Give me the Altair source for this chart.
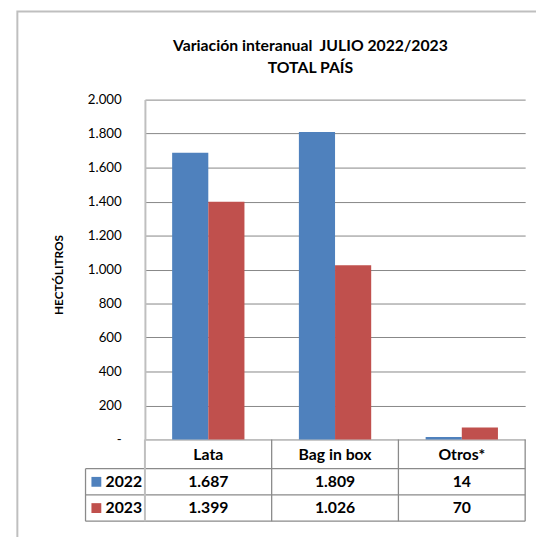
import altair as alt
import pandas as pd

# ---- data ----
categories = ["Lata", "Bag in box", "Otros*"]
years = ["2022", "2023"]
values_2022 = [1687, 1809, 14]
values_2023 = [1399, 1026, 70]
y_ticks = [0, 200, 400, 600, 800, 1000, 1200, 1400, 1600, 1800, 2000]
colors = ["#4F81BD", "#C0504D"]
title_lines = ["Variación interanual \u00a0JULIO 2022/2023", "TOTAL PAÍS"]
y_title = "HECTÓLITROS"

rows = []
for cat, a, b in zip(categories, values_2022, values_2023):
    rows.append({"cat": cat, "year": "2022", "value": a})
    rows.append({"cat": cat, "year": "2023", "value": b})
df = pd.DataFrame(rows)
df["label"] = df["value"].map(lambda v: f"{v:,}".replace(",", "."))

# ---- layout ----
W, H = 386, 345
FONT = "Lato"
GRID = "#868686"
AXIS = "#bfbfbf"
TABLE = "#8a8a8a"
row_tops = [H, 374.7, 401.3, 428.0]          # header, 2022, 2023 rows
row_centers = [(row_tops[i] + row_tops[i + 1]) / 2 for i in range(3)]
left_col = -60.3

xscale = alt.Scale(domain=categories, paddingInner=0, paddingOuter=0)
color_scale = alt.Scale(domain=years, range=colors)
one = pd.DataFrame({"k": [0]})

label_expr = ("datum.value == 0 ? '-\u00a0\u00a0\u00a0' : "
              "replace(format(datum.value, ','), ',', '.')")

bars = alt.Chart(df).mark_bar().encode(
    x=alt.X("cat:N", scale=xscale, sort=categories,
            axis=alt.Axis(title=None, orient="bottom", domain=False, ticks=False,
                          labelAngle=0, labelFont=FONT, labelFontSize=16,
                          labelFontWeight="bold", labelColor="#000",
                          labelPadding=15, labelBaseline="middle")),
    xOffset=alt.XOffset("year:N", sort=years,
                        scale=alt.Scale(domain=years, paddingInner=0, paddingOuter=0.753)),
    y=alt.Y("value:Q", scale=alt.Scale(domain=[0, 2000], nice=False),
            axis=alt.Axis(values=y_ticks, grid=True, gridColor=GRID, gridWidth=1,
                          domainColor=AXIS, domainWidth=2, ticks=False,
                          labelPadding=24, labelFont=FONT, labelFontSize=13.5,
                          labelColor="#000", labelExpr=label_expr,
                          title=y_title, titleFont=FONT, titleFontSize=12,
                          titleFontWeight="bold", titleColor="#000",
                          titleX=-88, titleY=H / 2 + 5, titleAngle=270,
                          titleAlign="center", titleBaseline="middle")),
    color=alt.Color("year:N", scale=color_scale, legend=None),
)

layers = [bars]

# outer frame (extends past the visible page on right/bottom)
layers.append(alt.Chart(one).mark_rect(fillOpacity=0, stroke=AXIS, strokeWidth=2).encode(
    x=alt.value(-129.5), x2=alt.value(700), y=alt.value(-89.5), y2=alt.value(700)))

# chart title
for i, line in enumerate(title_lines):
    layers.append(alt.Chart(one).mark_text(
        font=FONT, fontSize=16, fontWeight="bold", color="#000",
        align="center", baseline="middle").encode(
        x=alt.value(168), y=alt.value(-54 + 22 * i), text=alt.value(line)))

# data table: horizontal lines
for yv in row_tops[1:]:
    layers.append(alt.Chart(one).mark_rule(color=TABLE, strokeWidth=1.3).encode(
        x=alt.value(left_col), x2=alt.value(W), y=alt.value(yv)))
# vertical lines
cats_df = pd.DataFrame({"cat": categories[1:]})
layers.append(alt.Chart(cats_df).mark_rule(color=TABLE, strokeWidth=1.3).encode(
    x=alt.X("cat:N", scale=xscale, sort=categories, bandPosition=0),
    y=alt.value(H), y2=alt.value(row_tops[3])))
layers.append(alt.Chart(one).mark_rule(color=TABLE, strokeWidth=1.3).encode(
    x=alt.value(W), y=alt.value(H), y2=alt.value(row_tops[3])))
layers.append(alt.Chart(one).mark_rule(color=TABLE, strokeWidth=1.3).encode(
    x=alt.value(left_col), y=alt.value(row_tops[1]), y2=alt.value(row_tops[3])))
layers.append(alt.Chart(one).mark_rule(color=AXIS, strokeWidth=2).encode(
    x=alt.value(0), y=alt.value(H), y2=alt.value(row_tops[3])))

# table rows: legend key, year and values
for i, yr in enumerate(years):
    yc = row_centers[i + 1]
    yr_df = pd.DataFrame({"year": [yr]})
    layers.append(alt.Chart(yr_df).mark_square(size=100, opacity=1).encode(
        x=alt.value(-49.3), y=alt.value(yc),
        color=alt.Color("year:N", scale=color_scale, legend=None)))
    layers.append(alt.Chart(yr_df).mark_text(
        font=FONT, fontSize=16, fontWeight="bold", color="#000",
        align="left", baseline="middle").encode(
        x=alt.value(-40), y=alt.value(yc), text="year:N"))
    layers.append(alt.Chart(df[df["year"] == yr]).mark_text(
        font=FONT, fontSize=16, fontWeight="bold", color="#000",
        align="center", baseline="middle").encode(
        x=alt.X("cat:N", scale=xscale, sort=categories),
        y=alt.value(yc), text="label:N"))

chart = alt.layer(*layers).properties(
    width=W, height=H,
    padding={"left": 139, "top": 89, "right": 11, "bottom": 95},
    autosize=alt.AutoSizeParams(type="none"),
    background="white",
).configure_view(stroke=None)

chart.save("out.html", embed_options={"renderer": "svg", "actions": False})
